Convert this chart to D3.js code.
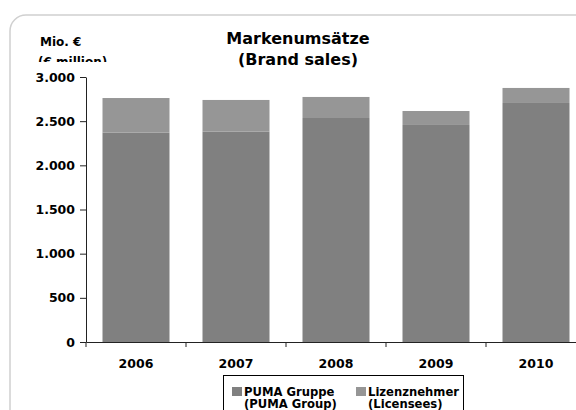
<!DOCTYPE html>
<html>
<head>
<meta charset="utf-8">
<script src="https://cdn.jsdelivr.net/npm/d3@7"></script>
<style>
  html, body { margin: 0; padding: 0; background: #fff; }
  svg { display: block; font-family: "DejaVu Sans", Verdana, sans-serif; font-weight: bold; }
</style>
</head>
<body>
<svg id="chart" width="576" height="410"></svg>
<script>
// Brand sales, € million
const years = ["2006", "2007", "2008", "2009", "2010"];
const pumaGroup = [2370, 2381, 2536, 2457, 2706];
const licensees = [392, 359, 238, 158, 170];
const yTicks = [0, 500, 1000, 1500, 2000, 2500, 3000];
const seriesNames = [["PUMA Gruppe", "(PUMA Group)"], ["Lizenznehmer", "(Licensees)"]];
const seriesColors = ["#808080", "#969696"];

const svg = d3.select("#chart");
const fmt = d3.formatLocale({ decimal: ",", thousands: ".", grouping: [3], currency: ["", " €"] }).format(",d");

// outer frame
svg.append("rect")
  .attr("x", 10).attr("y", 15).attr("width", 600).attr("height", 420)
  .attr("rx", 16).attr("ry", 16)
  .attr("fill", "#fff").attr("stroke", "#d0d0d0").attr("stroke-width", 1.5);

const plotLeft = 86, plotBottom = 342, plotTop = 77;
const x = d3.scaleBand().domain(years).range([plotLeft, plotLeft + 500]).paddingInner(0.33).paddingOuter(0.165);
const y = d3.scaleLinear().domain([0, 3000]).range([plotBottom, plotTop]);

// stacked bars
const rows = years.map((yr, i) => ({ year: yr, puma: pumaGroup[i], lic: licensees[i] }));
const stack = d3.stack().keys(["puma", "lic"])(rows);
svg.append("g").selectAll("g").data(stack).join("g")
  .attr("fill", (d, i) => seriesColors[i])
  .selectAll("rect").data(d => d).join("rect")
  .attr("x", d => x(d.data.year))
  .attr("width", x.bandwidth())
  .attr("y", d => y(d[1]))
  .attr("height", d => y(d[0]) - y(d[1]));

// y axis
const yAxis = svg.append("g").attr("transform", `translate(${plotLeft},0)`)
  .call(d3.axisLeft(y).tickValues(yTicks).tickSize(6).tickSizeOuter(0).tickFormat(fmt));
yAxis.select(".domain").attr("stroke", "#222");
yAxis.selectAll(".tick line").attr("stroke", "#222");
yAxis.selectAll("text").attr("font-size", 12.5).attr("font-weight", "bold")
  .attr("font-family", "DejaVu Sans, Verdana, sans-serif").attr("fill", "#000").attr("x", -11);

// x axis
const xAxis = svg.append("g").attr("transform", `translate(0,${plotBottom})`)
  .call(d3.axisBottom(x).tickSize(0).tickSizeOuter(0));
xAxis.select(".domain").attr("stroke", "#222");
xAxis.selectAll("text").attr("font-size", 12.5).attr("font-weight", "bold")
  .attr("font-family", "DejaVu Sans, Verdana, sans-serif").attr("fill", "#000").attr("dy", 0).attr("y", 26);
const gap = (x.step() - x.bandwidth()) / 2;
xAxis.selectAll("line.sep").data(years).join("line").attr("class", "sep")
  .attr("x1", d => x(d) - gap).attr("x2", d => x(d) - gap)
  .attr("y1", 0).attr("y2", 5).attr("stroke", "#222");

// title
svg.append("text").attr("x", 298).attr("y", 44).attr("text-anchor", "middle")
  .attr("font-size", 16).text("Markenumsätze");
svg.append("text").attr("x", 298).attr("y", 65).attr("text-anchor", "middle")
  .attr("font-size", 16).text("(Brand sales)");

// unit label
svg.append("clipPath").attr("id", "unitClip").append("rect")
  .attr("x", 0).attr("y", 0).attr("width", 200).attr("height", 62);
const unit = svg.append("g").attr("clip-path", "url(#unitClip)");
unit.append("text").attr("x", 40).attr("y", 46).attr("font-size", 12).text("Mio. €");
unit.append("text").attr("x", 38).attr("y", 66).attr("font-size", 12).text("(€ million)");

// legend
const legend = svg.append("g");
legend.append("rect").attr("x", 223.5).attr("y", 375.5).attr("width", 240).attr("height", 60)
  .attr("fill", "#fff").attr("stroke", "#000").attr("stroke-width", 1);
const legX = [232, 356];
seriesNames.forEach((names, i) => {
  legend.append("rect").attr("x", legX[i]).attr("y", 387).attr("width", 10).attr("height", 9)
    .attr("fill", seriesColors[i]);
  legend.append("text").attr("x", legX[i] + 12).attr("y", 395.5).attr("font-size", 11.6).text(names[0]);
  legend.append("text").attr("x", legX[i] + 12).attr("y", 408).attr("font-size", 11.6).text(names[1]);
});
</script>
</body>
</html>
